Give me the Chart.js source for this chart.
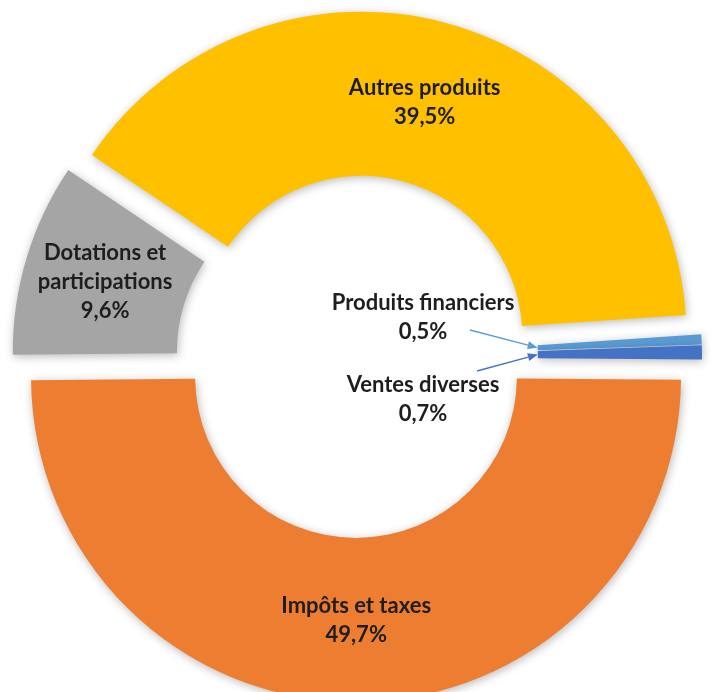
<!DOCTYPE html>
<html>
<head>
<meta charset="utf-8">
<script src="https://cdn.jsdelivr.net/npm/chart.js@4.4.0/dist/chart.umd.min.js"></script>
<style>
  html, body { margin: 0; padding: 0; background: #fff; overflow: hidden; }
</style>
</head>
<body>
<canvas id="recettesChart" width="711" height="692"></canvas>
<script>
// Répartition des recettes (en % du total)
const categories = ['Impôts et taxes', 'Dotations et participations', 'Autres produits', 'Produits financiers', 'Ventes diverses'];
const labelLines = [['Impôts et taxes'], ['Dotations et', 'participations'], ['Autres produits'], ['Produits financiers'], ['Ventes diverses']];
const shares = [49.7, 9.6, 39.5, 0.5, 0.7];

// how far each slice is pulled out of the ring (px)
const SLICE_SHIFT = [20, 19, 21, 21, 21];
const LABEL_FONT = 'bold 22px Lato';
const LINE_H = 29;

function formatPct(v) {
    return v.toFixed(1).replace('.', ',') + '%';
}

// centre of a slice once it has been pulled out
function arcGeom(arc, i) {
    const mid = (arc.startAngle + arc.endAngle) / 2;
    const d = SLICE_SHIFT[i] || 0;
    return {
        x: arc.x + Math.cos(mid) * d,
        y: arc.y + Math.sin(mid) * d,
        mid: mid,
        inner: arc.innerRadius,
        outer: arc.outerRadius
    };
}

function drawBlock(ctx, lines, x, y) {
    const top = y - (lines.length - 1) * LINE_H / 2;
    lines.forEach((t, i) => ctx.fillText(t, x, top + i * LINE_H));
}

function drawArrow(ctx, x1, y1, x2, y2, color) {
    const a = Math.atan2(y2 - y1, x2 - x1);
    const len = 10, half = 4;
    ctx.strokeStyle = color;
    ctx.fillStyle = color;
    ctx.lineWidth = 1.3;
    ctx.beginPath();
    ctx.moveTo(x1, y1);
    ctx.lineTo(x2 - Math.cos(a) * len, y2 - Math.sin(a) * len);
    ctx.stroke();
    ctx.beginPath();
    ctx.moveTo(x2, y2);
    ctx.lineTo(x2 - Math.cos(a) * len - Math.sin(a) * half, y2 - Math.sin(a) * len + Math.cos(a) * half);
    ctx.lineTo(x2 - Math.cos(a) * len + Math.sin(a) * half, y2 - Math.sin(a) * len - Math.cos(a) * half);
    ctx.closePath();
    ctx.fill();
}

// draws the arcs pulled out along their mid angle, with a soft shadow
const explodePlugin = {
    id: 'explodedSlices',
    beforeDatasetDraw(chart, args) {
        const ctx = chart.ctx;
        args.meta.data.forEach((arc, i) => {
            const g = arcGeom(arc, i);
            ctx.save();
            ctx.shadowColor = 'rgba(0, 0, 0, 0.28)';
            ctx.shadowBlur = 10;
            ctx.shadowOffsetX = 1;
            ctx.shadowOffsetY = 2;
            ctx.translate(g.x - arc.x, g.y - arc.y);
            arc.draw(ctx, chart.chartArea);
            ctx.restore();
        });
        return false;
    }
};

// labels inside the slices, the two small ones in the hole with arrows
const labelPlugin = {
    id: 'sliceLabels',
    afterDraw(chart) {
        const ctx = chart.ctx;
        const arcs = chart.getDatasetMeta(0).data;
        const values = chart.data.datasets[0].data;
        const cx = arcs[0].x, cy = arcs[0].y;
        ctx.save();
        ctx.font = LABEL_FONT;
        ctx.textAlign = 'center';
        ctx.textBaseline = 'middle';

        arcs.forEach((arc, i) => {
            if (values[i] < 5) return;
            const g = arcGeom(arc, i);
            const r = (g.inner + g.outer) / 2;
            const lines = labelLines[i].concat([formatPct(values[i])]);
            ctx.fillStyle = '#1e1e1e';
            drawBlock(ctx, lines, g.x + Math.cos(g.mid) * r, g.y + Math.sin(g.mid) * r);
        });

        // small slices: text in the hole, arrow to the inner edge
        [3, 4].forEach((i, k) => {
            const arc = arcs[i];
            const g = arcGeom(arc, i);
            const lines = labelLines[i].concat([formatPct(values[i])]);
            const bx = cx + 67;
            const by = cy + (k === 0 ? -40 : 42);
            ctx.fillStyle = '#1e1e1e';
            drawBlock(ctx, lines, bx, by);
            const ex = g.x + Math.cos(g.mid) * g.inner;
            const ey = g.y + Math.sin(g.mid) * g.inner;
            const sx = bx + (k === 0 ? 47 : 54);
            const sy = by + (k === 0 ? 13 : -28);
            drawArrow(ctx, sx, sy, ex, ey, arc.options.backgroundColor);
        });
        ctx.restore();
    }
};

const ctx = document.getElementById('recettesChart').getContext('2d');
window.recettesChart = new Chart(ctx, {
    type: 'doughnut',
    data: {
        labels: categories,
        datasets: [{
            data: shares,
            backgroundColor: ['#ED7D31', '#A5A5A5', '#FFC000', '#5B9BD5', '#4472C4'],
            borderWidth: 0,
            clip: false
        }]
    },
    options: {
        responsive: false,
        animation: false,
        radius: 325,
        cutout: '49.5%',
        rotation: 90.5,
        layout: {
            padding: { left: 1, right: 0, top: 22, bottom: 0 }
        },
        plugins: {
            legend: { display: false },
            tooltip: { enabled: false }
        }
    },
    plugins: [explodePlugin, labelPlugin]
});
</script>
</body>
</html>
